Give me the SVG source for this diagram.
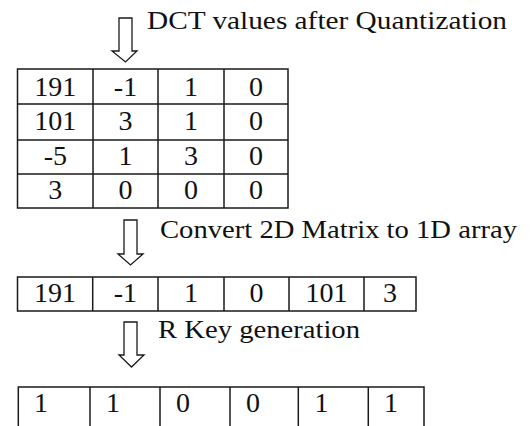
<svg xmlns="http://www.w3.org/2000/svg" width="532" height="426" viewBox="0 0 532 426">
<style>
.bg{fill:#ffffff}
.cell{fill:none;stroke:#1a1a1a;stroke-width:1.5}
text{font-family:"Liberation Serif","Times New Roman",serif;fill:#111}
.num{font-size:28px}
.c{text-anchor:middle}
.lbl{font-size:25px}
.arrow{fill:#ffffff;stroke:#1a1a1a;stroke-width:1.3;stroke-linejoin:miter}
</style>
<rect class="bg" x="0" y="0" width="532" height="426"/>

<g id="connectors">
  <path class="arrow" d="M119,18 H132 V51 H137 L125.5,62 L112,51 H119 Z"/>
  <path class="arrow" d="M124,220 H137 V254 H143 L130.5,265 L118,254 H124 Z"/>
  <path class="arrow" d="M124,322 H137 V355 H144 L131.5,367 L119,355 H124 Z"/>
  <text class="lbl" x="147" y="29" textLength="360" lengthAdjust="spacingAndGlyphs">DCT values after Quantization</text>
  <text class="lbl" x="160" y="238" textLength="357" lengthAdjust="spacingAndGlyphs">Convert 2D Matrix to 1D array</text>
  <text class="lbl" x="158" y="338" textLength="202" lengthAdjust="spacingAndGlyphs">R Key generation</text>
</g>

<g id="matrix">
  <rect class="cell" x="17.5" y="69" width="270.5" height="139"/>
  <path class="cell" d="M93,69 V208 M158,69 V208 M224,69 V208 M17.5,104 H288 M17.5,140 H288 M17.5,174 H288"/>
  <text class="num c" x="55.3" y="96">191</text>
  <text class="num c" x="125.5" y="96">-1</text>
  <text class="num c" x="191" y="96">1</text>
  <text class="num c" x="256" y="96">0</text>
  <text class="num c" x="55.3" y="130">101</text>
  <text class="num c" x="125.5" y="130">3</text>
  <text class="num c" x="191" y="130">1</text>
  <text class="num c" x="256" y="130">0</text>
  <text class="num c" x="55.3" y="164.5">-5</text>
  <text class="num c" x="125.5" y="164.5">1</text>
  <text class="num c" x="191" y="164.5">3</text>
  <text class="num c" x="256" y="164.5">0</text>
  <text class="num c" x="55.3" y="198.5">3</text>
  <text class="num c" x="125.5" y="198.5">0</text>
  <text class="num c" x="191" y="198.5">0</text>
  <text class="num c" x="256" y="198.5">0</text>
</g>

<g id="array1d">
  <rect class="cell" x="17.5" y="277" width="398.5" height="34"/>
  <path class="cell" d="M92.7,277 V311 M158,277 V311 M224,277 V311 M289,277 V311 M364,277 V311"/>
  <text class="num c" x="55" y="302">191</text>
  <text class="num c" x="125.3" y="302">-1</text>
  <text class="num c" x="191" y="302">1</text>
  <text class="num c" x="256.5" y="302">0</text>
  <text class="num c" x="326.5" y="302">101</text>
  <text class="num c" x="390" y="302">3</text>
</g>

<g id="rkey">
  <rect class="cell" x="18.3" y="387" width="405.7" height="60"/>
  <path class="cell" d="M90,387 V447 M160,387 V447 M230,387 V447 M298.3,387 V447 M368.3,387 V447"/>
  <text class="num" x="34" y="411.5">1</text>
  <text class="num" x="106" y="411.5">1</text>
  <text class="num" x="176" y="411.5">0</text>
  <text class="num" x="246" y="411.5">0</text>
  <text class="num" x="314.5" y="411.5">1</text>
  <text class="num" x="384" y="411.5">1</text>
</g>
</svg>
